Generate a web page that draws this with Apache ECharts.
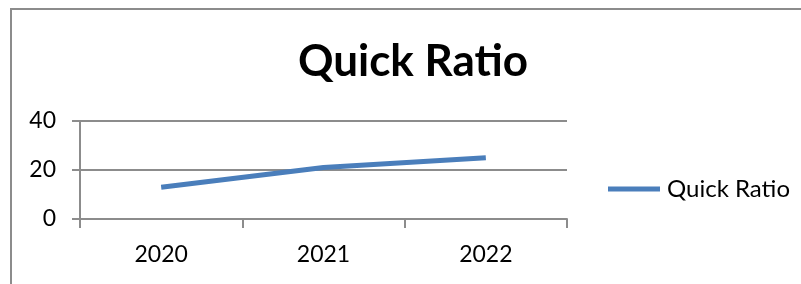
<!DOCTYPE html>
<html>
<head>
<meta charset="utf-8">
<script src="https://cdn.jsdelivr.net/npm/echarts@6/dist/echarts.min.js"></script>
<style>
  html, body { margin: 0; padding: 0; background: #fff; }
  #chart { width: 801px; height: 284px; }
</style>
</head>
<body>
<div id="chart"></div>
<script>
    var years = ['2020', '2021', '2022'];
    var quickRatio = [13, 21, 25];
    var yTicks = { min: 0, max: 40, interval: 20 };

    var gray = '#8c8c8c';
    var blue = '#4a7ebb';
    var font = 'Lato';

    var chart = echarts.init(document.getElementById('chart'));

    chart.setOption({
        animation: false,
        backgroundColor: '#fff',
        title: {
            text: 'Quick Ratio',
            left: 413,
            top: 40,
            textAlign: 'center',
            padding: 0,
            textStyle: {
                fontFamily: font,
                fontWeight: 'bold',
                fontSize: 44,
                color: '#000'
            }
        },
        legend: {
            left: 608,
            top: 177,
            padding: 0,
            icon: 'rect',
            itemWidth: 52,
            itemHeight: 5,
            textStyle: { fontFamily: font, fontSize: 24, color: '#000', padding: [0, 0, 0, 2] },
            data: ['Quick Ratio']
        },
        graphic: [{
            type: 'rect',
            shape: { x: 11, y: 9, width: 900, height: 400 },
            style: { fill: 'none', stroke: gray, lineWidth: 2 },
            silent: true
        }],
        grid: { left: 80, right: 234, top: 121, bottom: 65 },
        xAxis: {
            type: 'category',
            data: years,
            boundaryGap: true,
            axisLine: { lineStyle: { color: gray, width: 2 } },
            axisTick: { show: true, length: 9, lineStyle: { color: gray, width: 2 } },
            axisLabel: { margin: 24, fontFamily: font, fontSize: 23, color: '#000' },
            splitLine: { show: false }
        },
        yAxis: {
            type: 'value',
            min: yTicks.min,
            max: yTicks.max,
            interval: yTicks.interval,
            axisLine: { show: true, lineStyle: { color: gray, width: 2 } },
            axisTick: { show: true, length: 8, lineStyle: { color: gray, width: 2 } },
            axisLabel: { margin: 24, fontFamily: font, fontSize: 23, color: '#000' },
            splitLine: { show: true, lineStyle: { color: gray, width: 2 } }
        },
        series: [{
            name: 'Quick Ratio',
            type: 'line',
            data: quickRatio,
            symbol: 'none',
            lineStyle: { color: blue, width: 5 },
            itemStyle: { color: blue }
        }]
    });
</script>
</body>
</html>
